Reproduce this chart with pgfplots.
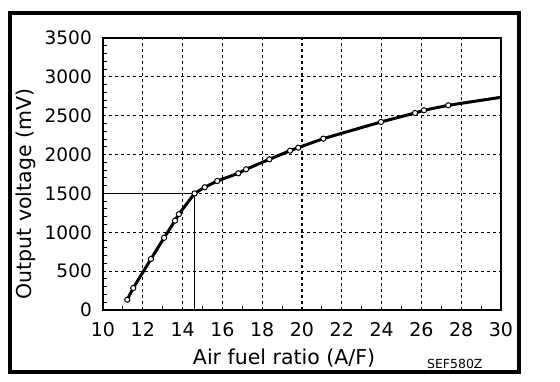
\documentclass[border=0pt]{standalone}
\usepackage{fontspec}
\setmainfont{DejaVu Sans}
\usepackage{pgfplots}
\pgfplotsset{compat=1.18}
\begin{document}
\begin{tikzpicture}[x=1pt,y=1pt]
\path[use as bounding box] (0,0) rectangle (560,382);
\draw[line width=4pt] (10.3,10) rectangle (519,369.2);
\begin{axis}[
  at={(103pt,72pt)}, anchor=south west,
  scale only axis, width=398pt, height=272pt,
  xmin=10, xmax=30, ymin=0, ymax=3500,
  xtick={10,12,...,30}, ytick={0,500,...,3500},
  minor xtick={11,13,...,29},
  minor ytick={100,200,300,400,600,700,800,900,1100,1200,1300,1400,1600,1700,1800,1900,2100,2200,2300,2400,2600,2700,2800,2900,3100,3200,3300,3400},
  xtick pos=left, ytick pos=left,
  tick align=inside,
  major tick length=0pt, minor tick length=4pt,
  every minor tick/.style={line width=1pt, black},
  axis line style={line width=1.5pt},
  grid=major,
  major grid style={line width=1.1pt, dash pattern=on 3pt off 3pt, black},
  /pgf/number format/assume math mode=true,
  /pgf/number format/1000 sep={},
  yticklabel style={font=\fontsize{18.5}{20}\selectfont, inner sep=0pt, anchor=east, xshift=-11pt},
  xticklabel style={font=\fontsize{19}{20}\selectfont, inner sep=0pt, anchor=north, yshift=-12.5pt},
  xlabel={Air fuel ratio (A/F)},
  ylabel={Output voltage (mV)},
  xlabel style={font=\fontsize{20.5}{22}\selectfont, at={(axis description cs:0.455,-0.176)}, anchor=center, inner sep=0pt},
  ylabel style={font=\fontsize{20.5}{22}\selectfont, at={(axis description cs:-0.195,0.426)}, anchor=center, rotate=0, inner sep=0pt},
  clip=false,
]
\addplot[black, line width=1pt] coordinates {(10,1500) (14.6,1500) (14.6,0)};
\addplot[black, line width=3pt, line join=round] coordinates {
(11.22,133) (11.52,283) (12.41,656) (13.07,929) (13.62,1150) (13.81,1233)
(14.60,1500) (15.11,1579) (15.74,1660) (16.80,1759) (17.19,1811) (18.36,1939)
(19.40,2050) (19.81,2089) (21.07,2205) (23.97,2420) (25.68,2535) (26.13,2570)
(27.35,2634) (30.00,2737)};
\addplot[only marks, mark=*, mark size=2.6pt, mark options={fill=white, draw=black, line width=1pt}] coordinates {
(11.22,133) (11.52,283) (12.41,656) (13.07,929) (13.62,1150) (13.81,1233)
(14.60,1500) (15.11,1579) (15.74,1660) (16.80,1759) (17.19,1811) (18.36,1939)
(19.40,2050) (19.81,2089) (21.07,2205) (23.97,2420) (25.68,2535) (26.13,2570)
(27.35,2634)};
\node[font=\fontsize{12.5}{13}\selectfont, anchor=center, inner sep=0pt] at (axis description cs:0.884,-0.199) {SEF580Z};
\end{axis}
\end{tikzpicture}
\end{document}
